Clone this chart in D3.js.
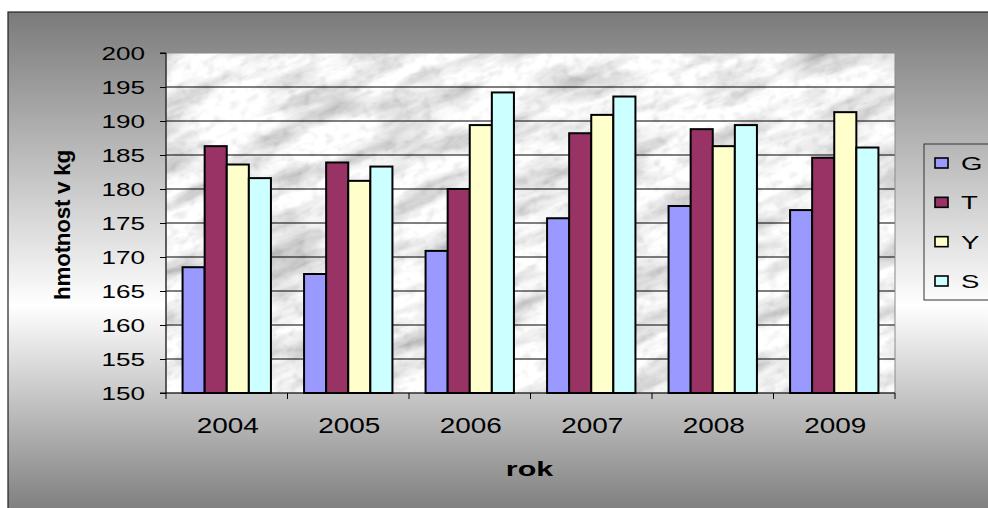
<!DOCTYPE html>
<html>
<head>
<meta charset="utf-8">
<script src="https://cdn.jsdelivr.net/npm/d3@7"></script>
<style>
  body { margin: 0; background: #fff; }
  svg { display: block; }
  text { font-family: "Liberation Sans", Arial, sans-serif; fill: #000; }
</style>
</head>
<body>
<svg id="chart" width="988" height="508"></svg>
<script>
// Average weight per year for four groups
const years = ["2004", "2005", "2006", "2007", "2008", "2009"];
const seriesNames = ["G", "T", "Y", "S"];
const valuesG = [168.5, 167.5, 170.9, 175.7, 177.5, 176.9];
const valuesT = [186.3, 183.9, 180.0, 188.2, 188.8, 184.6];
const valuesY = [183.6, 181.2, 189.4, 190.9, 186.3, 191.3];
const valuesS = [181.6, 183.3, 194.2, 193.6, 189.4, 186.1];
const seriesColors = ["#9999FF", "#993366", "#FFFFCC", "#CCFFFF"];
const yTicks = [150, 155, 160, 165, 170, 175, 180, 185, 190, 195, 200];
const yDomain = [150, 200];
const yTitle = "hmotnost v kg";
const xTitle = "rok";

const seriesValues = [valuesG, valuesT, valuesY, valuesS];
const rows = years.map((yr, i) => ({
  year: yr,
  values: seriesNames.map((s, j) => ({ key: s, value: seriesValues[j][i], color: seriesColors[j] }))
}));

const svg = d3.select("#chart");
const W = 988, H = 508;
const frame = { left: 8, top: 12 };
const plot = { left: 166, right: 895, top: 53, bottom: 393 };

const defs = svg.append("defs");

// chart-area background: grey at top and bottom, light band below the middle
const bg = defs.append("linearGradient")
  .attr("id", "bgGrad").attr("x1", 0).attr("y1", 0).attr("x2", 0).attr("y2", 1);
bg.append("stop").attr("offset", "0%").attr("stop-color", "#7a7a7a");
bg.append("stop").attr("offset", "58%").attr("stop-color", "#ffffff");
bg.append("stop").attr("offset", "100%").attr("stop-color", "#7a7a7a");

// marble texture for the plot area: blotchy veins plus fine grain
const marble = defs.append("filter")
  .attr("id", "marble")
  .attr("filterUnits", "userSpaceOnUse")
  .attr("x", -400).attr("y", -200).attr("width", 1800).attr("height", 1000);
marble.append("feTurbulence")
  .attr("type", "fractalNoise")
  .attr("baseFrequency", "0.012 0.045")
  .attr("numOctaves", 6)
  .attr("seed", 4)
  .attr("result", "veins");
marble.append("feColorMatrix")
  .attr("in", "veins")
  .attr("type", "matrix")
  .attr("values", "1.05 0 0 0 0.36  1.05 0 0 0 0.36  1.05 0 0 0 0.37  0 0 0 0 1")
  .attr("result", "veinsGrey");
marble.append("feTurbulence")
  .attr("type", "fractalNoise")
  .attr("baseFrequency", "0.09 0.12")
  .attr("numOctaves", 2)
  .attr("seed", 9)
  .attr("result", "grain");
marble.append("feColorMatrix")
  .attr("in", "grain")
  .attr("type", "matrix")
  .attr("values", "0.5 0 0 0 0.75  0.5 0 0 0 0.75  0.5 0 0 0 0.75  0 0 0 0 1")
  .attr("result", "grainGrey");
marble.append("feBlend")
  .attr("in", "veinsGrey").attr("in2", "grainGrey")
  .attr("mode", "multiply");

defs.append("clipPath").attr("id", "plotClip")
  .append("rect")
  .attr("x", plot.left).attr("y", plot.top)
  .attr("width", plot.right - plot.left).attr("height", plot.bottom - plot.top);

// frame
svg.append("rect")
  .attr("x", frame.left).attr("y", frame.top)
  .attr("width", W - frame.left + 10).attr("height", H - frame.top + 10)
  .attr("fill", "url(#bgGrad)")
  .attr("stroke", "#222").attr("stroke-width", 1.2);

// scales
const x0 = d3.scaleBand()
  .domain(years)
  .range([plot.left, plot.right])
  .paddingInner(1.5 / 5.5)
  .paddingOuter(0.75 / 5.5);
const x1 = d3.scaleBand()
  .domain(seriesNames)
  .range([0, x0.bandwidth()]);
const y = d3.scaleLinear().domain(yDomain).range([plot.bottom, plot.top]);

// plot area
const plotG = svg.append("g").attr("clip-path", "url(#plotClip)");
plotG.append("rect")
  .attr("x", plot.left).attr("y", plot.top)
  .attr("width", plot.right - plot.left).attr("height", plot.bottom - plot.top)
  .attr("fill", "#e4e4e6");
plotG.append("g")
  .attr("transform", `rotate(-20 ${(plot.left + plot.right) / 2} ${(plot.top + plot.bottom) / 2})`)
  .append("rect")
  .attr("x", -300).attr("y", -300).attr("width", 1600).attr("height", 1000)
  .attr("filter", "url(#marble)");

// horizontal gridlines
svg.append("g")
  .selectAll("line")
  .data(yTicks.filter(t => t > yDomain[0] && t < yDomain[1]))
  .join("line")
  .attr("x1", plot.left).attr("x2", plot.right)
  .attr("y1", d => y(d)).attr("y2", d => y(d))
  .attr("stroke", "#000").attr("stroke-width", 1);

// plot border
svg.append("rect")
  .attr("x", plot.left).attr("y", plot.top)
  .attr("width", plot.right - plot.left).attr("height", plot.bottom - plot.top)
  .attr("fill", "none").attr("stroke", "#8a8a8a").attr("stroke-width", 1);

// bars
svg.append("g")
  .selectAll("g")
  .data(rows)
  .join("g")
  .attr("transform", d => `translate(${x0(d.year)},0)`)
  .selectAll("rect")
  .data(d => d.values)
  .join("rect")
  .attr("x", d => x1(d.key))
  .attr("y", d => y(d.value))
  .attr("width", x1.bandwidth())
  .attr("height", d => y(yDomain[0]) - y(d.value))
  .attr("fill", d => d.color)
  .attr("stroke", "#000")
  .attr("stroke-width", 2);

// y axis
const yAxis = svg.append("g")
  .attr("transform", `translate(${plot.left},0)`)
  .call(d3.axisLeft(y).tickValues(yTicks).tickSize(6).tickFormat(""));
yAxis.selectAll("path, line").attr("stroke", "#000").attr("stroke-width", 1);
yAxis.select(".domain").attr("d", `M-6,${y(yDomain[1])}H0V${y(yDomain[0])}H-6`);

svg.append("g")
  .selectAll("text")
  .data(yTicks)
  .join("text")
  .attr("transform", d => `translate(${plot.left - 21},${y(d) + 6.5}) scale(1.45,1)`)
  .attr("text-anchor", "end")
  .attr("font-size", 18)
  .text(d => d);

// x axis with ticks on category boundaries
const xAxisG = svg.append("g");
xAxisG.append("line")
  .attr("x1", plot.left).attr("x2", plot.right)
  .attr("y1", plot.bottom).attr("y2", plot.bottom)
  .attr("stroke", "#000");
const step = x0.step();
const boundaries = years.map(yr => x0(yr) - x0.paddingOuter() * step).concat([plot.right]);
xAxisG.selectAll("line.tick")
  .data(boundaries)
  .join("line")
  .attr("class", "tick")
  .attr("x1", d => d).attr("x2", d => d)
  .attr("y1", plot.bottom).attr("y2", plot.bottom + 6)
  .attr("stroke", "#000");

svg.append("g")
  .selectAll("text")
  .data(years)
  .join("text")
  .attr("transform", d => `translate(${x0(d) + x0.bandwidth() / 2 + 1},${plot.bottom + 40}) scale(1.27,1)`)
  .attr("text-anchor", "middle")
  .attr("font-size", 22)
  .text(d => d);

// axis titles
svg.append("text")
  .attr("transform", `translate(${plot.left + (plot.right - plot.left) / 2 - 1},476) scale(1.45,1)`)
  .attr("text-anchor", "middle")
  .attr("font-size", 21)
  .attr("font-weight", "bold")
  .text(xTitle);

svg.append("text")
  .attr("transform", "translate(70,225) rotate(-90)")
  .attr("text-anchor", "middle")
  .attr("font-size", 22.5)
  .attr("font-weight", "bold")
  .attr("letter-spacing", -0.3)
  .text(yTitle);

// legend
const legend = svg.append("g");
legend.append("rect")
  .attr("x", 924).attr("y", 144)
  .attr("width", 80).attr("height", 156)
  .attr("fill", "none")
  .attr("stroke", "#333").attr("stroke-width", 1);
const legendY = d3.scalePoint().domain(seriesNames).range([163, 281]);
const item = legend.selectAll("g.item")
  .data(seriesNames.map((s, i) => ({ key: s, color: seriesColors[i] })))
  .join("g")
  .attr("class", "item")
  .attr("transform", d => `translate(0,${legendY(d.key)})`);
item.append("rect")
  .attr("x", 935).attr("y", -5)
  .attr("width", 13).attr("height", 10)
  .attr("fill", d => d.color)
  .attr("stroke", "#000").attr("stroke-width", 1.6);
item.append("text")
  .attr("transform", "translate(961,7) scale(1.45,1)")
  .attr("font-size", 19)
  .text(d => d.key);
</script>
</body>
</html>
